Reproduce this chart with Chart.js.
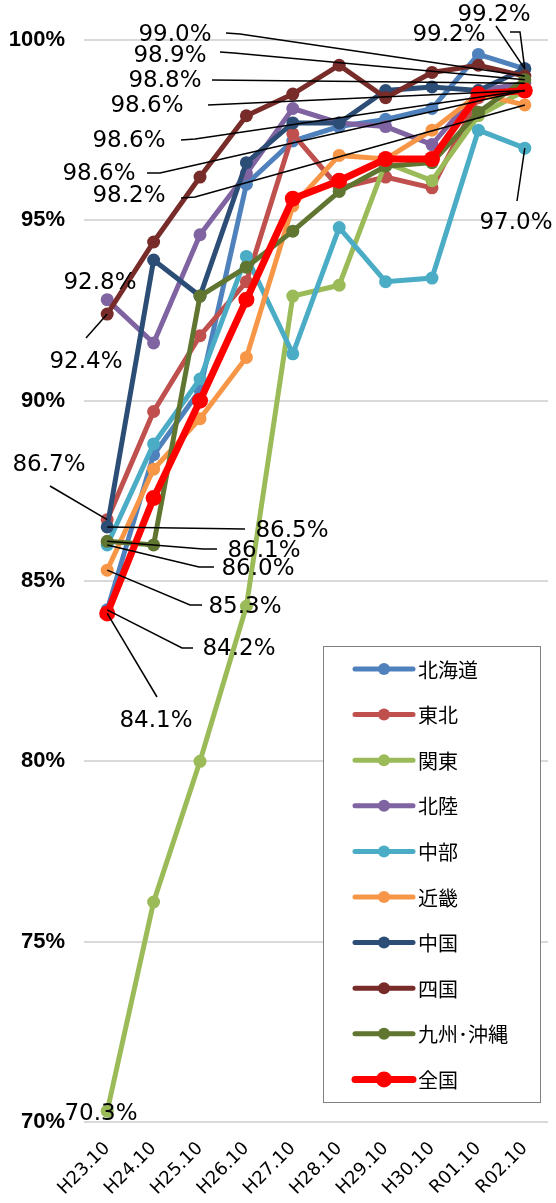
<!DOCTYPE html>
<html>
<head>
<meta charset="utf-8">
<script src="https://cdn.jsdelivr.net/npm/chart.js@4.4.1/dist/chart.umd.min.js"></script>
<style>
  html, body { margin: 0; padding: 0; background: #fff; }
  #wrap { width: 556px; height: 1203px; }
</style>
</head>
<body>
<div id="wrap"><canvas id="c" width="556" height="1203"></canvas></div>
<script>
// Survey months
const categories = ['H23.10', 'H24.10', 'H25.10', 'H26.10', 'H27.10', 'H28.10', 'H29.10', 'H30.10', 'R01.10', 'R02.10'];

// Rate by region (%)
const hokkaido = [84.2, 88.5, 90.3, 96.0, 97.2, 97.6, 97.8, 98.1, 99.6, 99.2];
const tohoku   = [86.7, 89.7, 91.8, 93.3, 97.4, 95.9, 96.2, 95.9, 98.4, 98.6];
const kanto    = [70.3, 76.1, 80.0, 84.3, 92.9, 93.2, 96.6, 96.1, 97.9, 98.6];
const hokuriku = [92.8, 91.6, 94.6, 96.3, 98.1, 97.7, 97.6, 97.1, 98.6, 98.8];
const chubu    = [86.0, 88.8, 90.6, 94.0, 91.3, 94.8, 93.3, 93.4, 97.5, 97.0];
const kinki    = [85.3, 88.1, 89.5, 91.2, 95.4, 96.8, 96.7, 97.5, 98.5, 98.2];
const chugoku  = [86.5, 93.9, 92.9, 96.6, 97.7, 97.7, 98.6, 98.7, 98.6, 99.2];
const shikoku  = [92.4, 94.4, 96.2, 97.9, 98.5, 99.3, 98.4, 99.1, 99.3, 99.0];
const kyushu   = [86.1, 86.0, 92.9, 93.7, 94.7, 95.8, 96.5, 96.6, 98.0, 98.9];
const zenkoku  = [84.1, 87.3, 90.0, 92.8, 95.6, 96.1, 96.7, 96.7, 98.5, 98.6];

// Y axis ticks (%)
const yTicks = [70, 75, 80, 85, 90, 95, 100];

const series = [
  { name: '北海道',    data: hokkaido, color: '#4F81BD' },
  { name: '東北',      data: tohoku,   color: '#C0504D' },
  { name: '関東',      data: kanto,    color: '#9BBB59' },
  { name: '北陸',      data: hokuriku, color: '#8064A2' },
  { name: '中部',      data: chubu,    color: '#4BACC6' },
  { name: '近畿',      data: kinki,    color: '#F79646' },
  { name: '中国',      data: chugoku,  color: '#2C4D75' },
  { name: '四国',      data: shikoku,  color: '#772C2A' },
  { name: '九州･沖縄', data: kyushu,   color: '#5F7530' },
  { name: '全国',      data: zenkoku,  color: '#FF0000', bold: true }
];

// Value callouts: series, point index, text centre, leader-line elbows (px)
const callouts = [
  { s: 7, i: 9, at: [175, 35],  path: [[226, 33], [240, 34]] },
  { s: 8, i: 9, at: [170, 56],  path: [[220, 52], [234, 53]] },
  { s: 3, i: 9, at: [165, 81],  path: [[212, 80]] },
  { s: 1, i: 9, at: [147, 106], path: [[208, 105]] },
  { s: 2, i: 9, at: [129, 141], path: [[181, 140], [195, 139]] },
  { s: 9, i: 9, at: [99, 174],  path: [[147, 173], [160, 173]] },
  { s: 5, i: 9, at: [129, 196], path: [[181, 198], [195, 197]] },
  { s: 0, i: 9, at: [494, 15],  path: [[510, 32], [520, 32]] },
  { s: 6, i: 9, at: [449, 35],  path: [[496, 26]] },
  { s: 4, i: 9, at: [516, 223], path: [[517, 201]] },
  { s: 3, i: 0, at: [100, 283], path: [] },
  { s: 7, i: 0, at: [86, 362],  path: [[86, 338]] },
  { s: 1, i: 0, at: [49, 465],  path: [[50, 486]] },
  { s: 6, i: 0, at: [292, 531], path: [[245, 529]] },
  { s: 8, i: 0, at: [264, 551], path: [[217, 549], [203, 549]] },
  { s: 4, i: 0, at: [258, 569], path: [[214, 567], [199, 567]] },
  { s: 5, i: 0, at: [245, 607], path: [[202, 605], [190, 605]] },
  { s: 0, i: 0, at: [239, 649], path: [[193, 648], [182, 648]] },
  { s: 9, i: 0, at: [156, 721], path: [[157, 697]] },
  { s: 2, i: 0, at: [101, 1114], path: [] }
];

const calloutPlugin = {
  id: 'callouts',
  afterDatasetsDraw(chart) {
    const ctx = chart.ctx;
    ctx.save();
    ctx.strokeStyle = '#000';
    ctx.lineWidth = 1.5;
    callouts.forEach(c => {
      if (!c.path.length) return;
      const pt = chart.getDatasetMeta(c.s).data[c.i];
      ctx.beginPath();
      ctx.moveTo(c.path[0][0], c.path[0][1]);
      for (let k = 1; k < c.path.length; k++) ctx.lineTo(c.path[k][0], c.path[k][1]);
      ctx.lineTo(pt.x, pt.y);
      ctx.stroke();
    });
    ctx.fillStyle = '#000';
    ctx.font = '23px "DejaVu Sans"';
    ctx.textAlign = 'center';
    ctx.textBaseline = 'middle';
    callouts.forEach(c => {
      const v = series[c.s].data[c.i];
      ctx.fillText(v.toFixed(1) + '%', c.at[0], c.at[1]);
    });
    ctx.restore();
  },
  afterDraw(chart) {
    // legend box inside the plot
    const ctx = chart.ctx;
    const box = { x: 323.5, y: 646.5, w: 217, h: 456 };
    ctx.save();
    ctx.fillStyle = '#fff';
    ctx.fillRect(box.x, box.y, box.w, box.h);
    ctx.strokeStyle = '#808080';
    ctx.lineWidth = 1;
    ctx.strokeRect(box.x, box.y, box.w, box.h);
    ctx.font = '20px "Noto Sans CJK JP"';
    ctx.textAlign = 'left';
    ctx.textBaseline = 'middle';
    chart.data.datasets.forEach((ds, k) => {
      const y = 669 + k * 45.6;
      const bold = series[k].bold;
      ctx.strokeStyle = ds.borderColor;
      ctx.lineWidth = bold ? 7 : 5;
      ctx.lineCap = 'round';
      ctx.beginPath();
      ctx.moveTo(355, y);
      ctx.lineTo(413, y);
      ctx.stroke();
      ctx.fillStyle = ds.borderColor;
      ctx.beginPath();
      ctx.arc(384, y, bold ? 8 : 6, 0, Math.PI * 2);
      ctx.fill();
      ctx.fillStyle = '#000';
      ctx.fillText(ds.label, 418, y + 1);
    });
    ctx.restore();
  }
};

const n = series.length;
new Chart(document.getElementById('c'), {
  type: 'line',
  data: {
    labels: categories,
    datasets: series.map((s, k) => ({
      label: s.name,
      data: s.data,
      borderColor: s.color,
      backgroundColor: s.color,
      pointBackgroundColor: s.color,
      pointBorderColor: s.color,
      borderWidth: s.bold ? 7 : 5,
      pointRadius: s.bold ? 8 : 6.5,
      pointBorderWidth: 0,
      tension: 0,
      fill: false,
      clip: false,
      order: n - k
    }))
  },
  options: {
    responsive: false,
    animation: false,
    events: [],
    layout: { padding: { top: 40, right: 8, left: 0, bottom: 0 } },
    plugins: { legend: { display: false }, tooltip: { enabled: false } },
    scales: {
      x: {
        offset: true,
        grid: { display: false },
        border: { display: false },
        ticks: {
          color: '#000',
          font: { family: 'DejaVu Sans', size: 18 },
          minRotation: 45,
          maxRotation: 45,
          padding: 8
        },
        afterFit(s) { s.height = 81; }
      },
      y: {
        min: 70,
        max: 100,
        afterBuildTicks(s) { s.ticks = yTicks.map(v => ({ value: v })); },
        ticks: {
          color: '#000',
          font: { family: 'Liberation Sans', size: 22, weight: 'bold' },
          padding: 19,
          callback: v => v + '%'
        },
        grid: { color: '#D9D9D9', lineWidth: 2, drawTicks: false },
        border: { display: false },
        afterFit(s) { s.width = 84; }
      }
    }
  },
  plugins: [calloutPlugin]
});
</script>
</body>
</html>
